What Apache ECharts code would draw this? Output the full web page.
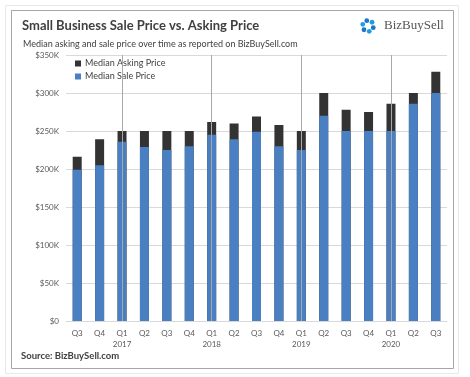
<!DOCTYPE html>
<html>
<head>
<meta charset="utf-8">
<script src="https://cdn.jsdelivr.net/npm/echarts@6/dist/echarts.min.js"></script>
<style>
  html, body { margin: 0; padding: 0; background: #fff; }
  #chart { width: 470px; height: 377px; }
</style>
</head>
<body>
<div id="chart"></div>
<script>
// quarters Q3 2016 .. Q3 2020
const quarters = ["Q3", "Q4", "Q1", "Q2", "Q3", "Q4", "Q1", "Q2", "Q3", "Q4", "Q1", "Q2", "Q3", "Q4", "Q1", "Q2", "Q3"];
const years = ["", "", "2017", "", "", "", "2018", "", "", "", "2019", "", "", "", "2020", "", ""];
const askingPrice = [216000, 239000, 250000, 250000, 250000, 250000, 262000, 260000, 269000, 258000, 250000, 300000, 278000, 275000, 286000, 300000, 328000];
const salePrice = [199000, 205000, 236000, 229000, 225000, 230000, 245000, 239000, 249000, 230000, 225000, 270000, 250000, 250000, 250000, 286000, 300000];
const yearStarts = [2, 6, 10, 14]; // Q1 of each year gets a divider

const labels = quarters.map((q, i) => (years[i] ? q + "\n" + years[i] : q));

const chart = echarts.init(document.getElementById("chart"));

// little ring of dots for the logo
const logoDots = [];
for (let i = 0; i < 6; i++) {
  const a = (i / 6) * Math.PI * 2 + 0.3;
  logoDots.push({
    type: "circle",
    shape: { cx: 368 + Math.cos(a) * 5.5, cy: 26 + Math.sin(a) * 5.5, r: 2.4 },
    style: { fill: i % 2 ? "#1b9fe3" : "#1f74c4" },
  });
}

const option = {
  animation: false,
  graphic: [
    {
      type: "rect",
      shape: { x: 5.5, y: 5.5, width: 453, height: 368 },
      style: { fill: "none", stroke: "#e8e8e8", lineWidth: 1 },
    },
    {
      type: "rect",
      shape: { x: 11.5, y: 10.5, width: 442, height: 358 },
      style: { fill: "none", stroke: "#a6a6a6", lineWidth: 1 },
    },
    {
      type: "text",
      left: 22,
      top: 19,
      style: {
        text: "Small Business Sale Price vs. Asking Price",
        fill: "#404040",
        font: "bold 13px Lato, sans-serif",
      },
    },
    {
      type: "text",
      left: 23,
      top: 40,
      style: {
        text: "Median asking and sale price over time as reported on BizBuySell.com",
        fill: "#404040",
        font: "9px Lato, sans-serif",
      },
    },
    ...logoDots,
    {
      type: "text",
      left: 384,
      top: 19,
      style: {
        text: "BizBuySell",
        fill: "#555555",
        font: "13px 'Liberation Serif', serif",
      },
    },
    {
      type: "text",
      left: 21,
      top: 351,
      style: {
        text: "Source: BizBuySell.com",
        fill: "#404040",
        font: "bold 9.5px Lato, sans-serif",
      },
    },
  ],
  legend: {
    orient: "vertical",
    left: 75,
    top: 59,
    padding: 0,
    itemWidth: 6,
    itemHeight: 6,
    itemGap: 4,
    icon: "rect",
    textStyle: { fontSize: 9, color: "#404040", fontFamily: "Lato", padding: [0, 0, 0, -1] },
    data: ["Median Asking Price", "Median Sale Price"],
  },
  grid: { left: 66, right: 23, top: 55, bottom: 56 },
  xAxis: {
    type: "category",
    data: labels,
    axisLine: { show: true, lineStyle: { color: "#d9d9d9" } },
    axisTick: { show: false },
    axisLabel: {
      color: "#595959",
      fontSize: 8,
      margin: 7,
      lineHeight: 11,
      interval: 0,
      fontFamily: "Lato",
    },
  },
  yAxis: {
    type: "value",
    min: 0,
    max: 350000,
    interval: 50000,
    axisLine: { show: false },
    axisTick: { show: false },
    splitLine: { lineStyle: { color: "#d9d9d9" } },
    axisLabel: {
      color: "#595959",
      fontSize: 8,
      margin: 7,
      fontFamily: "Lato",
      formatter: (v) => (v === 0 ? "$0" : "$" + v / 1000 + "K"),
    },
  },
  series: [
    {
      name: "Median Asking Price",
      type: "bar",
      barWidth: 9,
      barGap: "-100%",
      itemStyle: { color: "#333333" },
      data: askingPrice,
      z: 1,
    },
    {
      name: "Median Sale Price",
      type: "bar",
      barWidth: 9,
      barGap: "-100%",
      itemStyle: { color: "#4a7fc1" },
      data: salePrice,
      z: 2,
      markLine: {
        silent: true,
        symbol: "none",
        label: { show: false },
        lineStyle: { color: "#a8a8a8", type: "solid", width: 1 },
        data: yearStarts.map((i) => ({ xAxis: i })),
        z: 5,
      },
    },
  ],
};

chart.setOption(option);
</script>
</body>
</html>
